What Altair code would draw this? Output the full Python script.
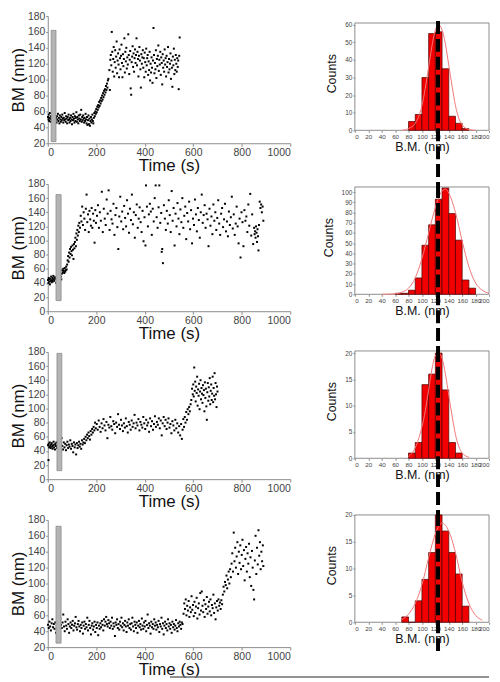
import altair as alt
import pandas as pd

# ---------------- scatter data: (time s, BM nm) ----------------
row1_points = [
    (1,53),(3,50),(4,56),(6,48),(7,52),(9,58),(10,51),(12,47),(13,54),(15,50),(17,53),(18,49),(20,55),
    (22,51),(24,47),(26,53),(28,50),(30,56),(32,49),(34,52),(36,46),(38,54),(40,50),(42,57),(44,48),(46,52),
    (48,45),(50,55),(52,50),(54,47),(56,53),(58,49),(60,56),(62,51),(64,46),(66,52),(68,49),(70,58),(72,50),
    (74,47),(76,54),(78,51),(80,45),(82,53),(84,49),(86,56),(88,50),(90,46),(92,52),(94,48),(96,55),(98,50),
    (100,44),(102,53),(104,49),(106,57),(108,51),(110,46),(112,54),(114,48),(116,52),(118,59),(120,47),(122,53),
    (124,50),(126,45),(128,55),(130,51),(132,48),(134,56),(136,50),(138,62),(140,47),(142,53),(144,49),(146,55),
    (148,51),(150,46),(152,52),(154,48),(156,57),(158,50),(160,45),(162,53),(164,43),(166,49),(168,55),(170,44),
    (172,51),(174,42),(176,48),(178,53),(180,46),(182,50),(184,56),(186,48),(188,45),(190,52),(192,58),(194,54),
    (196,60),(198,57),(200,63),(202,59),(204,66),(206,62),(208,68),(210,65),(212,72),(214,67),(216,74),(218,70),
    (220,77),(222,73),(224,80),(226,75),(228,83),(230,78),(232,86),(234,81),(236,88),(238,84),(240,92),(242,87),
    (244,95),(246,90),(248,99),(250,101),
    (254,112),(256,87),(258,125),(260,131),(262,118),(264,160),(266,135),(268,110),(270,126),(272,141),(274,104),
    (276,122),(278,137),(280,115),(282,129),(284,148),(286,108),(288,124),(290,133),(292,119),(294,103),(296,138),
    (298,127),(300,113),(302,130),(304,144),(306,121),(308,103),(310,132),(312,117),(314,126),(316,152),(318,109),
    (320,135),(322,123),(324,140),(326,114),(328,128),(330,119),(332,157),(334,131),(336,107),(338,125),(340,136),
    (342,89),(344,81),(346,122),(348,129),(350,142),(352,116),(354,133),(356,110),(358,127),(360,138),(362,121),
    (364,131),(366,152),(368,118),(370,135),(372,126),(374,104),(376,130),(378,141),(380,124),(382,113),(384,90),
    (386,132),(388,120),(390,128),(392,137),(394,115),(396,127),(398,103),(400,134),(402,122),(404,110),(406,139),
    (408,118),(410,127),(412,131),(414,106),(416,123),(418,112),(420,135),(422,99),(424,120),(426,109),(428,128),
    (430,115),(432,96),(434,124),(436,165),(438,131),(440,108),(442,121),(444,113),(446,137),(448,102),(450,126),
    (452,117),(454,130),(456,143),(458,111),(460,125),(462,119),(464,135),(466,106),(468,128),(470,121),(472,94),
    (474,132),(476,115),(478,124),(480,110),(482,138),(484,119),(486,127),(488,104),(490,130),(492,116),(494,122),
    (496,141),(498,109),(500,126),(502,113),(504,120),(506,133),(508,101),(510,124),(512,115),(514,91),(516,129),
    (518,118),(520,139),(522,107),(524,125),(526,112),(528,131),(530,120),(532,110),(534,127),(536,116),(538,124),
    (540,88),(542,130),(544,153),
]

row2_points = [
    (1,44),(3,40),(4,47),(6,42),(8,45),(9,38),(11,46),(13,43),(14,49),(16,41),(18,44),(20,47),(21,42),(23,50),
    (25,45),(27,43),(29,48),(31,46),(35,40),(40,44),(45,42),(50,47),
    (54,49),(56,45),(58,53),(60,58),(62,55),(64,60),(66,57),(68,54),(70,61),(72,56),(74,58),(76,63),(78,59),(80,66),
    (82,72),(84,78),(86,70),(88,83),(90,76),(92,88),(94,81),(96,91),(98,85),(100,79),(102,93),(104,87),(106,74),
    (108,95),(110,89),(112,98),(114,104),(116,92),(118,110),(120,101),(122,115),(124,107),(126,121),(128,112),
    (130,125),(133,118),(136,135),(139,127),(142,148),(145,122),(148,140),(151,131),(154,115),(157,145),(160,165),
    (163,126),(166,137),(169,112),(172,142),(175,130),(178,121),(181,146),(184,118),(187,138),(190,128),(193,97),
    (196,143),(199,125),
    (203,135),(207,150),(211,118),(215,140),(219,128),(223,169),(227,112),(231,145),(235,131),(239,122),(243,158),
    (247,138),(251,171),(255,115),(259,142),(263,130),(267,124),(271,152),(275,108),(279,136),(283,146),(287,119),
    (291,88),(295,134),(299,162),(303,127),(307,141),(311,116),(315,149),(319,132),(323,120),(327,157),(331,138),
    (335,111),(339,145),(343,129),(347,165),(351,123),(355,140),(359,104),(363,136),(367,151),(371,118),(375,131),
    (379,147),(383,126),(387,112),(391,142),(395,99),(399,133),(403,93),(405,178),(409,148),(413,120),(417,137),
    (421,152),(425,141),(429,108),(433,145),(437,127),(441,160),(445,178),(449,133),(453,118),(457,147),(460,178),
    (464,125),(468,139),(470,84),(472,88),(475,68),(479,150),(483,131),(487,115),(491,142),(495,124),(499,157),
    (503,136),(507,112),(511,170),(515,128),(519,146),(523,93),(527,138),(531,120),(535,153),(539,131),(543,109),
    (547,144),(551,126),(555,160),(559,118),(563,135),(567,148),(571,102),(575,139),(579,127),(583,155),(587,116),
    (591,143),(595,96),(599,131),(603,122),(607,158),(611,137),(615,113),(619,146),(623,129),(627,104),(631,140),
    (635,165),(639,125),(643,136),(647,150),(651,118),(655,138),(659,130),(663,92),(667,145),(671,121),(675,134),
    (679,109),(683,151),(687,128),(691,140),(695,115),(699,132),(703,157),(707,124),(711,108),(715,138),(719,146),
    (723,119),(727,130),(731,152),(735,113),(739,127),(743,106),(747,141),(751,122),(755,133),(759,162),(763,117),
    (767,137),(771,108),(775,124),(779,148),(783,120),(787,96),(791,131),(795,76),(799,140),(803,126),(807,92),
    (811,143),(815,128),(819,134),(823,112),(827,151),(831,121),(835,166),(839,107),(843,137),(847,95),(851,118),
    (853,109),(855,113),(857,104),(859,120),(861,111),(863,98),(865,116),(867,106),(869,86),(871,122),(874,155),
    (877,146),(880,151),(883,140),(886,148),(889,128),
]

row3_points = [
    (1,48),(3,27),(4,50),(6,45),(8,52),(10,47),(12,44),(14,49),(16,51),(18,46),(20,43),(22,48),(24,53),(26,45),
    (28,49),(30,42),(32,50),(34,47),(36,52),(38,44),(42,48),(46,51),(50,45),(54,49),
    (57,58),(60,47),(63,42),(66,52),(69,45),(72,50),(75,41),(78,48),(81,53),(84,44),(87,49),(90,46),(93,55),
    (96,43),(99,50),(102,47),(105,38),(108,52),(111,45),(114,49),(117,35),(120,51),(123,44),(126,48),(129,53),
    (132,46),(135,50),(138,43),(141,55),(144,49),(147,52),
    (150,57),(153,51),(156,60),(159,55),(162,63),(165,58),(168,66),(171,61),(174,56),(177,68),(180,63),(183,71),
    (186,66),(189,74),(192,69),(195,80),(198,72),
    (202,78),(206,70),(210,83),(214,74),(218,67),(222,79),(226,72),(230,85),(234,76),(238,69),(242,81),(246,58),
    (250,77),(254,73),(258,88),(262,75),(266,70),(270,82),(274,78),(278,65),(282,80),(286,74),(290,92),(294,77),
    (298,71),(302,84),(306,76),(310,68),(314,79),(318,73),(322,86),(326,75),(330,66),(334,81),(338,77),(342,70),
    (346,83),(350,74),(354,79),(358,91),(362,72),(366,80),(370,76),(374,85),(378,69),(382,81),(386,77),(390,73),
    (394,88),(398,79),(402,71),(406,84),(410,76),(414,80),(418,67),(422,86),(426,75),(430,82),(434,70),(438,78),
    (442,89),(446,74),(450,81),(454,77),(458,86),(462,72),(466,83),(470,62),(474,79),(478,88),(482,75),(486,84),
    (490,71),(494,80),(498,86),(502,73),(506,78),(510,65),(514,82),(518,76),(522,69),(526,84),(530,72),(534,79),
    (538,66),(542,75),(546,62),(550,78),(553,57),(556,70),(559,85),
    (562,74),(565,88),(568,80),(571,95),(574,84),(577,99),(580,92),(583,102),(586,96),(589,106),
    (592,112),(595,128),(598,120),(600,134),(602,117),(604,158),(606,125),(608,138),(610,110),(612,131),(614,122),
    (616,145),(618,104),(620,127),(622,118),(624,135),(626,99),(628,124),(630,140),(632,113),(634,129),(636,121),
    (638,108),(640,133),(642,119),(644,126),(646,96),(648,137),(650,115),(652,128),(654,103),(656,84),(658,123),
    (660,136),(662,111),(664,130),(666,117),(668,143),(670,106),(672,125),(674,134),(676,112),(678,121),(680,145),
    (682,109),(684,129),(686,118),(688,150),(690,113),(692,136),(694,120),(696,102),(698,131),(700,124),
]

row4_points = [
    (1,48),(4,44),(7,52),(10,46),(13,41),(16,50),(19,55),(22,45),(25,49),(28,43),(31,51),(34,38),(37,47),(40,53),
    (43,45),(46,50),(49,42),(52,56),(55,48),(58,44),(61,51),(64,61),(67,46),(70,40),(73,52),(76,47),(79,43),
    (82,55),(85,49),(88,38),(91,46),(94,51),(97,44),(100,48),(103,53),(106,41),(109,47),(112,50),(115,58),(118,45),
    (121,42),(124,49),(127,53),(130,46),(133,40),(136,48),(139,44),(142,51),(145,37),(148,47),(151,52),(154,43),
    (157,49),(160,45),(163,57),(166,41),(169,48),(172,53),(175,44),(178,36),(181,47),(184,50),(187,42),(190,46),
    (193,52),(196,39),(199,48),(202,44),(205,51),(208,35),(211,47),(214,43),(217,50),(220,45),(223,53),(226,48),
    (229,41),(232,55),(235,47),(238,52),(241,58),(244,49),(247,46),(250,54),(253,50),(256,44),(259,52),(262,47),
    (265,57),(268,43),(271,50),(274,46),(277,34),(280,51),(283,48),(286,55),(289,44),(292,49),(295,42),(298,52),
    (301,47),(304,57),(307,45),(310,50),(313,41),(316,48),(319,53),(322,46),(325,39),(328,51),(331,47),(334,55),
    (337,44),(340,49),(343,42),(346,50),(349,57),(352,46),(355,40),(358,52),(361,48),(364,44),(367,51),(370,38),
    (373,47),(376,53),(379,45),(382,49),(385,42),(388,56),(391,47),(394,43),(397,51),(400,46),(403,53),(406,40),
    (409,48),(412,61),(415,44),(418,50),(421,47),(424,37),(427,52),(430,45),(433,49),(436,43),(439,55),(442,47),
    (445,51),(448,42),(451,48),(454,45),(457,53),(460,39),(463,49),(466,46),(469,57),(472,43),(475,50),(478,36),
    (481,47),(484,52),(487,44),(490,49),(493,41),(496,55),(499,46),(502,50),(505,43),(508,48),(511,38),(514,52),
    (517,45),(520,49),(523,42),(526,47),(529,54),(532,44),(535,40),(538,50),(541,46),(544,52),(547,48),(550,43),
    (553,51),(556,49),
    (560,62),(563,75),(566,68),(569,80),(572,60),(575,72),(578,66),(581,78),(584,58),(587,70),(590,64),(593,84),
    (596,67),(599,73),(602,59),(605,77),(608,63),(611,71),(614,82),(617,56),(620,69),(623,75),(626,61),(629,88),
    (632,66),(635,90),(638,72),(641,64),(644,79),(647,58),(650,74),(653,68),(656,83),(659,62),(662,71),(665,77),
    (668,65),(671,80),(674,60),(677,73),(680,69),(683,86),(686,63),(689,75),(692,55),(695,70),(698,78),(701,66),
    (704,80),(707,72),(710,76),(713,68),(716,79),(719,74),
    (722,86),(725,96),(728,90),(731,102),(734,98),(737,110),(740,94),(743,105),(746,115),(749,100),(752,118),
    (755,108),(758,125),
    (761,138),(764,115),(767,164),(770,128),(773,145),(776,120),(779,134),(782,152),(785,112),(788,140),(791,126),
    (794,148),(797,118),(800,136),(803,155),(806,122),(809,142),(812,104),(815,131),(818,146),(821,115),(824,138),
    (827,125),(830,150),(833,108),(836,133),(839,97),(842,141),(845,120),(848,92),(851,80),(854,129),(857,160),
    (860,112),(863,145),(866,124),(869,167),(872,135),(875,152),(878,118),(881,140),(884,128),(887,148),(889,122),
]

scatter_rows = [row1_points, row2_points, row3_points, row4_points]
scatter_ydomains = [[20, 180], [0, 180], [0, 180], [20, 180]]
scatter_yticks = [
    [20, 40, 60, 80, 100, 120, 140, 160, 180],
    [0, 20, 40, 60, 80, 100, 120, 140, 160, 180],
    [0, 20, 40, 60, 80, 100, 120, 140, 160, 180],
    [20, 40, 60, 80, 100, 120, 140, 160, 180],
]
time_ticks = [0, 200, 400, 600, 800, 1000]
# grey marker bars: (time start, time end, BM low, BM high)
marker_bars = [(14, 34, 22, 162), (34, 55, 15, 165), (38, 58, 12, 178), (34, 55, 25, 172)]

# ---------------- histogram data ----------------
hist_bin_starts = [
    [80, 90, 100, 110, 120, 130, 140, 150, 160],
    [60, 70, 80, 90, 100, 110, 120, 130, 140, 150, 160, 170],
    [80, 90, 100, 110, 120, 130, 140, 150],
    [70, 80, 90, 100, 110, 120, 130, 140, 150, 160],
]
hist_counts = [
    [5, 9, 30, 55, 56, 35, 8, 4, 1],
    [1, 1, 4, 16, 48, 68, 93, 104, 79, 53, 14, 6],
    [1, 3, 14, 16, 20, 13, 3, 1],
    [1, 0, 4, 8, 13, 20, 17, 13, 9, 3],
]
fit_x = [
    [70, 80, 90, 100, 105, 110, 115, 120, 125, 130, 135, 140, 145, 150, 160, 170, 180],
    [40, 60, 70, 80, 90, 100, 110, 120, 130, 135, 140, 150, 160, 170, 180, 190, 200],
    [80, 90, 100, 105, 110, 115, 120, 125, 130, 135, 140, 145, 150, 160, 170],
    [70, 80, 90, 100, 110, 120, 130, 140, 150, 160, 170, 180, 190],
]
fit_y = [
    [0, 1, 4, 14, 24, 36, 48, 57, 60, 57, 49, 37, 25, 14, 3, 0.5, 0],
    [0, 0.5, 2, 6, 16, 35, 60, 85, 101, 103, 99, 80, 52, 27, 11, 4, 1],
    [0.3, 2, 6, 9, 13, 17, 19.5, 20, 19, 16, 12, 8, 4.5, 1, 0.2],
    [0.5, 1.5, 3.5, 7, 12, 16.5, 18.5, 17, 13, 7.5, 3.5, 1.3, 0.4],
]
hist_ymax = [61, 105, 20.4, 20]
hist_yticks = [
    [0, 10, 20, 30, 40, 50, 60],
    [0, 10, 20, 30, 40, 50, 60, 70, 80, 90, 100],
    [0, 5, 10, 15, 20],
    [0, 5, 10, 15, 20],
]
bm_ticks = [0, 20, 40, 60, 80, 100, 120, 140, 160, 180, 200]
mean_bm = 124

FONT = "Liberation Sans"
L_W, L_H, L_SP = 244, 128, 41          # scatter plot size / row spacing
R_W, R_H, R_SP = 135, 108, 50          # histogram frame size / row spacing
R_TOP = 7                              # histogram frame sits this far below scatter top
COL_GAP = 65                           # gap between scatter plot and histogram frame
GRAY = "#8c8c8c"


def scatter_panel(i, last=False):
    df = pd.DataFrame(scatter_rows[i], columns=["t", "bm"])
    xs = alt.Scale(domain=[0, 1000], nice=False)
    ys = alt.Scale(domain=scatter_ydomains[i], nice=False)
    xax = alt.Axis(values=time_ticks, format="d", title="Time (s)", grid=False, labelFontSize=10.5,
                   titleFontSize=17, titleFontWeight="normal", tickSize=3, labelPadding=1,
                   titlePadding=0, domainColor=GRAY, tickColor=GRAY,
                   labelColor="#444", titleColor="#111", labelFont=FONT, titleFont=FONT)
    yax = alt.Axis(values=scatter_yticks[i], format="d", title="BM (nm)", grid=False,
                   labelFontSize=10.5, titleFontSize=17, titleFontWeight="normal", tickSize=2,
                   labelPadding=1, titlePadding=0, domainColor=GRAY, tickColor=GRAY,
                   labelColor="#444", titleColor="#111", labelFont=FONT, titleFont=FONT)
    pts = alt.Chart(df).mark_square(size=4, color="black", opacity=1).encode(
        x=alt.X("t:Q", scale=xs, axis=xax),
        y=alt.Y("bm:Q", scale=ys, axis=yax),
    )
    t0, t1, b0, b1 = marker_bars[i]
    bar_df = pd.DataFrame({"t": [t0], "t_end": [t1], "bm": [b0], "bm_end": [b1]})
    bar = alt.Chart(bar_df).mark_rect(fill="#b4b4b4", stroke=GRAY, strokeWidth=0.8).encode(
        x=alt.X("t:Q", scale=xs, axis=xax),
        x2="t_end:Q",
        y=alt.Y("bm:Q", scale=ys, axis=yax),
        y2="bm_end:Q",
    )
    layers = [pts, bar]
    if last:
        # thin grey border line along the bottom edge of the figure
        edge = alt.Chart(pd.DataFrame({"k": [0]})).mark_rule(color="#6e6e6e", strokeWidth=1.5).encode(
            x=alt.value(123), x2=alt.value(444), y=alt.value(L_H + 30)
        )
        layers.append(edge)
    return alt.layer(*layers).properties(width=L_W, height=L_H)


def hist_panel(i, last=False):
    starts = hist_bin_starts[i]
    ymax = hist_ymax[i]
    ytop = ymax * (R_H + R_TOP) / R_H   # empty band above the frame
    df = pd.DataFrame({"b0": starts, "b1": [s + 10 for s in starts],
                       "count": hist_counts[i], "base": [0] * len(starts)})
    fdf = pd.DataFrame({"fx": fit_x[i], "fy": fit_y[i]})
    xs = alt.Scale(domain=[0, 200], nice=False)
    ys = alt.Scale(domain=[0, ytop], nice=False)
    xax = alt.Axis(values=bm_ticks, format="d", title="B.M. (nm)", grid=False, domain=False,
                   labelFontSize=6.3, titleFontSize=12.5, titleFontWeight="normal",
                   tickSize=2, labelPadding=1, titlePadding=1, tickColor=GRAY,
                   labelColor="#444", titleColor="#111", labelFont=FONT, titleFont=FONT,
                   labelOverlap=False)
    yax = alt.Axis(values=hist_yticks[i], format="d", title="Counts", grid=False, domain=False,
                   labelFontSize=6.5, titleFontSize=12.5, titleFontWeight="normal",
                   tickSize=2, labelPadding=1, titlePadding=6, tickColor=GRAY,
                   labelColor="#444", titleColor="#111", labelFont=FONT, titleFont=FONT)
    frame = alt.Chart(pd.DataFrame({"x0": [0], "x1": [200], "y0": [0], "y1": [ymax]})).mark_rect(
        fillOpacity=0, stroke=GRAY, strokeWidth=1
    ).encode(
        x=alt.X("x0:Q", scale=xs, axis=xax), x2="x1:Q",
        y=alt.Y("y0:Q", scale=ys, axis=yax), y2="y1:Q",
    )
    bars = alt.Chart(df).mark_rect(color="#f20000", stroke="#4a0000", strokeWidth=0.7).encode(
        x=alt.X("b0:Q", scale=xs, axis=xax),
        x2="b1:Q",
        y=alt.Y("count:Q", scale=ys, axis=yax),
        y2="base:Q",
    )
    fit = alt.Chart(fdf).mark_line(color="#f27878", strokeWidth=1, interpolate="monotone").encode(
        x=alt.X("fx:Q", scale=xs, axis=xax),
        y=alt.Y("fy:Q", scale=ys, axis=yax),
    )
    dash_bottom = R_TOP + 142 if last else R_TOP - 2 + R_H + R_TOP + R_SP
    dash = alt.Chart(pd.DataFrame({"m": [mean_bm]})).mark_rule(
        color="black", strokeWidth=4, strokeDash=[13, 5]
    ).encode(
        x=alt.X("m:Q", scale=xs, axis=xax),
        y=alt.value(R_TOP - 2),
        y2=alt.value(dash_bottom),
    )
    return alt.layer(frame, bars, fit, dash).properties(width=R_W, height=R_H + R_TOP)


left_col = alt.vconcat(*[scatter_panel(i, last=(i == 3)) for i in range(4)], spacing=L_SP,
                       bounds="flush")
right_col = alt.vconcat(*[hist_panel(i, last=(i == 3)) for i in range(4)], spacing=R_SP,
                        bounds="flush")

# with flush bounds a nested column counts as zero width, so the spacing spans the scatter width too
chart = alt.hconcat(left_col, right_col, spacing=L_W + COL_GAP, bounds="flush").properties(
    padding={"left": 0, "top": 0, "right": 0, "bottom": 0}
).configure_view(stroke="transparent")

chart.save("out.html", embed_options={"renderer": "svg", "actions": False})
